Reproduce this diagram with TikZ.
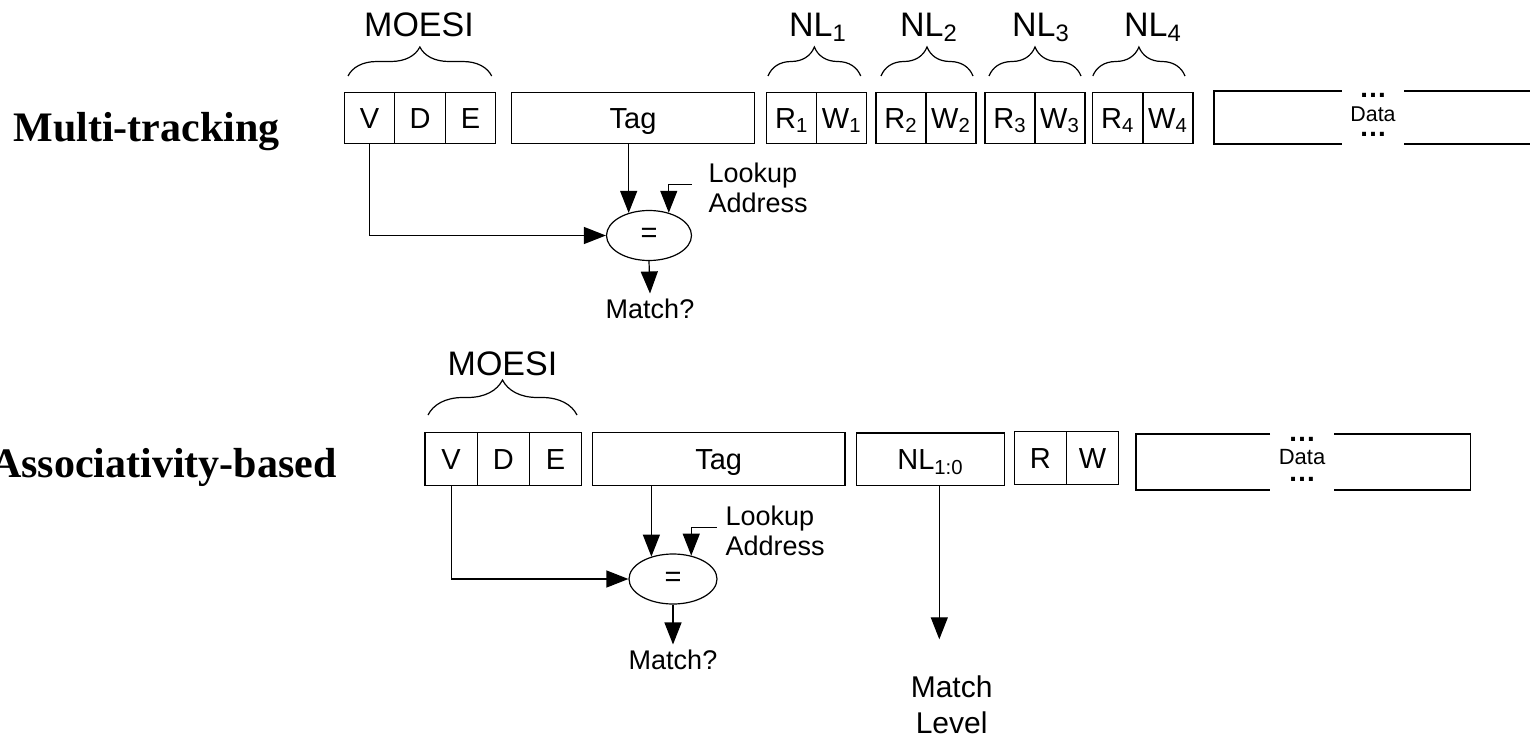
\documentclass[tikz,border=0pt]{standalone}
\usepackage{fontspec}
\setmainfont{Liberation Sans}
\newfontfamily\rowfont{Liberation Serif}
\usetikzlibrary{arrows.meta,shapes.geometric,decorations.pathreplacing}

\newcommand{\setfs}[2]{\fontsize{#1}{#2}\selectfont}

\begin{document}
\begin{tikzpicture}[x=0.5pt,y=-0.5pt,line width=0.6pt,
    >={Triangle[length=11pt,width=8.5pt]},
    cell/.style={draw,inner sep=0pt,minimum width=25.25pt,minimum height=25.25pt,
        text height=13pt,text depth=2.6pt,font=\setfs{14.5pt}{17pt}},
    cellb/.style={cell,minimum width=26.15pt,minimum height=26.4pt},
    cmp/.style={draw,ellipse,inner sep=0pt,minimum width=42.5pt,minimum height=25pt,
        font=\setfs{14.5pt}{17pt}},
    field/.style={inner sep=0pt,anchor=base,font=\setfs{17pt}{20pt}},
    curly/.style={decorate,decoration={brace,amplitude=#1}},
    note/.style={inner sep=0pt,anchor=west,align=left,font=\setfs{13.5pt}{15pt}},
    result/.style={inner sep=2.5pt,font=\setfs{13.5pt}{15pt}},
    dots/.style={inner sep=0pt,text height=1.7pt,text depth=0pt,font=\bfseries\setfs{14pt}{16pt}},
    rowname/.style={inner sep=0pt,font=\rowfont\bfseries\setfs{21pt}{24pt}}]
    \useasboundingbox (0,0) rectangle (1530,738);

    % multi-tracking line
    \node[rowname,anchor=base west] (row1) at (13,141.7) {Multi-tracking};
    \node[cell] (v1) at (369.5,118) {V};
    \node[cell] (d1) at (420,118) {D};
    \node[cell] (e1) at (470.5,118) {E};
    \node[cell,minimum width=121.3pt] (tag1) at (633,118) {Tag};
    \node[cell,minimum width=25pt] (r1) at (791.7,118) {R\textsubscript{1}};
    \node[cell,minimum width=25pt] (w1) at (841.7,118) {W\textsubscript{1}};
    \node[cell,minimum width=25pt] (r2) at (901,118) {R\textsubscript{2}};
    \node[cell,minimum width=25pt] (w2) at (951,118) {W\textsubscript{2}};
    \node[cell,minimum width=25pt] (r3) at (1010,118) {R\textsubscript{3}};
    \node[cell,minimum width=25pt] (w3) at (1060,118) {W\textsubscript{3}};
    \node[cell,minimum width=25pt] (r4) at (1117.7,118) {R\textsubscript{4}};
    \node[cell,minimum width=25pt] (w4) at (1168,118) {W\textsubscript{4}};
    \draw (1341.7,91) -| (1214,144) -- (1341.7,144);
    \draw (1404,91) -- (1531,91);
    \draw (1404,144) -- (1531,144);
    \node[dots] (dt1a) at (1373,96) {…};
    \node[inner sep=0pt,font=\setfs{10.7pt}{12pt}] (dt1) at (1373,114.2) {Data};
    \node[dots] (dt1b) at (1373,134.3) {…};

    \draw[curly=14.5pt] (348,76) -- (491.7,76);
    \node[field] (moesi1) at (419,36.7) {MOESI};
    \draw[curly=14.5pt] (768,76) -- (860.7,76);
    \node[field] (nl1) at (818,36.7) {NL\textsubscript{1}};
    \draw[curly=14.5pt] (881,76) -- (973,76);
    \node[field] (nl2) at (929,36.7) {NL\textsubscript{2}};
    \draw[curly=14.5pt] (989,76) -- (1081,76);
    \node[field] (nl3) at (1041,36.7) {NL\textsubscript{3}};
    \draw[curly=14.5pt] (1092.8,76) -- (1185,76);
    \node[field] (nl4) at (1153,36.7) {NL\textsubscript{4}};

    \node[cmp] (eq1) at (649,235.5) {=};
    \node[note] (look1) at (708,188.3) {Lookup\\Address};
    \coordinate (la1) at (691.7,184.3);
    \node[result] (m1) at (650,309) {Match?};
    \draw[->] (v1.south) |- (eq1.west);
    \draw[->] (eq1.132 |- tag1.south) -- (eq1.132);
    \draw[->] (la1) -| (eq1.49);
    \draw[->] (eq1.south) -- (m1.north);

    % associativity-based line
    \node[rowname,anchor=base east] (row2) at (337,477) {Associativity-based};
    \node[cellb] (v2) at (451.1,459.1) {V};
    \node[cellb] (d2) at (503.4,459.1) {D};
    \node[cellb] (e2) at (555.6,459.1) {E};
    \node[cellb,minimum width=126.35pt] (tag2) at (718.65,459.1) {Tag};
    \node[cellb,minimum width=73.8pt] (nl) at (930.5,459.3) {NL\textsubscript{1:0}};
    \node[cellb,minimum width=26pt] (r) at (1040.3,458.2) {R};
    \node[cellb,minimum width=26pt] (w) at (1092.5,458.2) {W};
    \draw (1270,434) -| (1136,490) -- (1270,490);
    \draw (1334,434) -| (1470.7,490) -- (1334,490);
    \node[dots] (dt2a) at (1302,440) {…};
    \node[inner sep=0pt,font=\setfs{11pt}{13pt}] (dt2) at (1302,457.5) {Data};
    \node[dots] (dt2b) at (1302,480) {…};

    \draw[curly=17.5pt] (428,415) -- (577,415);
    \node[field] (moesi2) at (502.5,375.5) {MOESI};

    \node[cmp,minimum width=44pt] (eq2) at (673,579) {=};
    \node[note] (look2) at (725,531.3) {Lookup\\Address};
    \coordinate (la2) at (716.7,527.7);
    \node[result] (m2) at (673,660) {Match?};
    \draw[->] (v2.south) |- (eq2.west);
    \draw[->] (eq2.134 |- tag2.south) -- (eq2.134);
    \draw[->] (la2) -| (eq2.52);
    \draw[->] (eq2.south) -- (m2.north);

    \coordinate (lvl) at (939.3,639.3);
    \node[inner sep=0pt,align=center,font=\setfs{15pt}{18pt}] (ml) at (951.6,704.3) {Match\\Level};
    \draw[->] (nl.south -| lvl) -- (lvl);
\end{tikzpicture}
\end{document}
